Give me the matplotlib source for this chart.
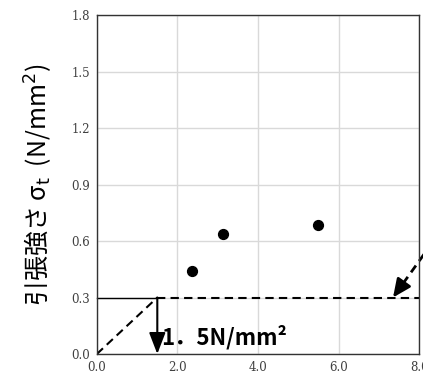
import matplotlib as mpl
mpl.use("Agg")
import matplotlib.pyplot as plt
from matplotlib.ticker import FixedLocator

# data
pts_x = [2.36, 3.13, 5.49]
pts_y = [0.44, 0.64, 0.685]
crit_x = 1.5
crit_y = 0.3
x_max = 8.0
y_max = 1.8
x_ticks = [0.0, 2.0, 4.0, 6.0, 8.0]
y_ticks = [0.0, 0.3, 0.6, 0.9, 1.2, 1.5, 1.8]
ptr_start = (8.12, 0.53)
ptr_end = (7.35, 0.3)

fig = plt.figure(figsize=(4.23, 3.79), dpi=100)
ax = fig.add_axes([0.229, 0.066, 0.762, 0.894])

ax.set_xlim(0, x_max)
ax.set_ylim(0, y_max)
ax.xaxis.set_major_locator(FixedLocator(x_ticks))
ax.yaxis.set_major_locator(FixedLocator(y_ticks))
ax.set_xticklabels([f"{v:.1f}" for v in x_ticks])
ax.set_yticklabels([f"{v:.1f}" for v in y_ticks])
ax.tick_params(length=0, labelsize=8.5, pad=5, colors="#404040")
for lab in ax.get_xticklabels() + ax.get_yticklabels():
    lab.set_family("DejaVu Serif")
ax.grid(True, color="#d9d9d9", linewidth=1.0)
ax.set_axisbelow(True)
for s in ax.spines.values():
    s.set_color("#333333")
    s.set_linewidth(1.0)

# points
ax.scatter(pts_x, pts_y, s=50, color="black", zorder=5)

# criterion lines
ax.plot([0, crit_x], [crit_y, crit_y], color="black", linewidth=1.0, clip_on=False)
ax.plot([crit_x, x_max], [crit_y, crit_y], color="black", linewidth=1.5,
        linestyle=(0, (4, 2.5)))
ax.plot([0, crit_x], [0, crit_y], color="black", linewidth=1.5,
        linestyle=(0, (4, 2.5)))

# vertical arrow
ax.annotate("", xy=(crit_x, 0), xytext=(crit_x, crit_y),
            arrowprops=dict(arrowstyle="-|>,head_length=1.3,head_width=0.5",
                            color="black", lw=1.5, shrinkA=0, shrinkB=0),
            annotation_clip=False)

ax.text(1.6, 0.025, "1．5N/mm²", fontsize=16, fontweight="bold",
        family=["Noto Sans CJK JP", "DejaVu Sans"],
        ha="left", va="bottom")

# dashed pointer arrow from outside: dashed shaft + solid head
t = 0.75
mid = (ptr_start[0] + t * (ptr_end[0] - ptr_start[0]),
       ptr_start[1] + t * (ptr_end[1] - ptr_start[1]))
ax.plot([ptr_start[0], mid[0]], [ptr_start[1], mid[1]], color="black",
        linewidth=2.0, linestyle=(0, (3, 2)), clip_on=False)
ax.annotate("", xy=ptr_end, xytext=mid,
            arrowprops=dict(arrowstyle="-|>,head_length=1.1,head_width=0.5",
                            color="black", lw=2.0, shrinkA=0, shrinkB=0),
            annotation_clip=False)

ax.set_ylabel("引張強さ σ$_{\\mathrm{t}}$  (N/mm$^2$)", fontsize=18,
              family=["Noto Sans CJK JP", "DejaVu Sans"], labelpad=12)

fig.savefig("out.png", dpi=100)
